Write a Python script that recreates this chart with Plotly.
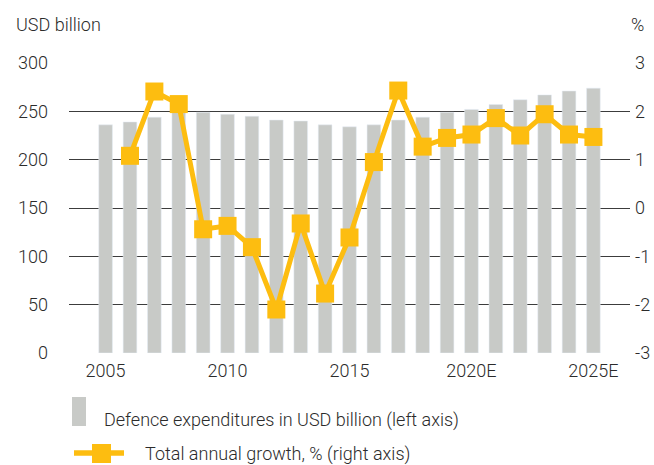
import plotly.graph_objects as go

# Defence spending (left axis, USD billion) and annual growth (right axis, %)
years = list(range(2005, 2026))
spend_usd_bn = [236, 239, 244, 249, 249, 247, 245, 241, 240, 236, 234,
                236, 241, 244, 249, 252, 257, 262, 267, 271, 274]
growth_years = list(range(2006, 2026))
growth_pct = [1.08, 2.41, 2.15, -0.44, -0.37, -0.81, -2.10, -0.32, -1.77, -0.61,
              0.95, 2.43, 1.27, 1.45, 1.52, 1.86, 1.50, 1.94, 1.52, 1.47]
tick_years = [2005, 2010, 2015, 2020, 2025]
tick_labels = ["2005", "2010", "2015", "2020E", "2025E"]
pct_ticks = [-3, -2, -1, 0, 1, 2, 3]
pct_labels = ["-3", "-2", "-1", "0", "1", "2", "3"]

BAR = "#c8cac7"
LINE = "#fdbd10"
TEXT = "#2b2b2b"
GRID = "#3c3c3c"
FONT = "Roboto"
FS = 18

W, H = 654, 465
L, R, T, B = 69, 24, 63, 112
pw, ph = W - L - R, H - T - B


def px(x):
    return (x - L) / pw


def py(y):
    return (H - B - y) / ph


fig = go.Figure()
fig.add_trace(go.Bar(x=years, y=spend_usd_bn, marker_color=BAR, width=0.56,
                     yaxis="y", showlegend=False, hoverinfo="x+y"))
fig.add_trace(go.Scatter(x=growth_years, y=growth_pct, yaxis="y2", mode="lines+markers",
                         line=dict(color=LINE, width=5),
                         marker=dict(symbol="square", size=18, color=LINE),
                         showlegend=False))

textfont = dict(family=FONT, size=FS, color=TEXT, weight=300)

fig.update_layout(
    width=W, height=H,
    margin=dict(l=L, r=R, t=T, b=B),
    paper_bgcolor="white", plot_bgcolor="white",
    font=textfont,
    xaxis=dict(range=[2003.5, 2026.5], tickvals=tick_years, ticktext=tick_labels,
               showgrid=False, zeroline=False, showline=False, ticks="",
               tickfont=textfont, ticklabelstandoff=5, automargin=False),
    yaxis=dict(range=[0, 300], dtick=50, showgrid=True, gridcolor=GRID, gridwidth=1,
               zeroline=False, showline=False, ticks="", tickfont=textfont,
               ticklabelstandoff=20, automargin=False),
    yaxis2=dict(range=[-3, 3], tickvals=pct_ticks, ticktext=pct_labels, overlaying="y",
                side="right", showgrid=False, zeroline=False, showline=False, ticks="",
                tickfont=textfont, ticklabelstandoff=4, automargin=False),
    bargap=0.44,
)

# axis titles
fig.add_annotation(text="USD billion", xref="paper", yref="paper", x=px(14), y=py(25),
                   xanchor="left", yanchor="middle", showarrow=False, font=textfont)
fig.add_annotation(text="%", xref="paper", yref="paper", x=px(646), y=py(25),
                   xanchor="right", yanchor="middle", showarrow=False, font=textfont)

# legend: bar swatch and line-with-marker swatch
fig.add_shape(type="rect", xref="paper", yref="paper", x0=px(72), x1=px(86),
              y0=py(426), y1=py(397), fillcolor=BAR, line_width=0)
fig.add_annotation(text="Defence expenditures in USD billion (left axis)", xref="paper",
                   yref="paper", x=px(102), y=py(420), xanchor="left", yanchor="middle",
                   showarrow=False, font=textfont)
fig.add_shape(type="line", xref="paper", yref="paper", x0=px(74), x1=px(124),
              y0=py(453), y1=py(453), line=dict(color=LINE, width=5.5))
fig.add_shape(type="rect", xref="paper", yref="paper", x0=px(92), x1=px(111),
              y0=py(463), y1=py(444), fillcolor=LINE, line_width=0)
fig.add_annotation(text="Total annual growth, % (right axis)", xref="paper",
                   yref="paper", x=px(143), y=py(454), xanchor="left", yanchor="middle",
                   showarrow=False, font=textfont)

fig.write_html("out.html")
